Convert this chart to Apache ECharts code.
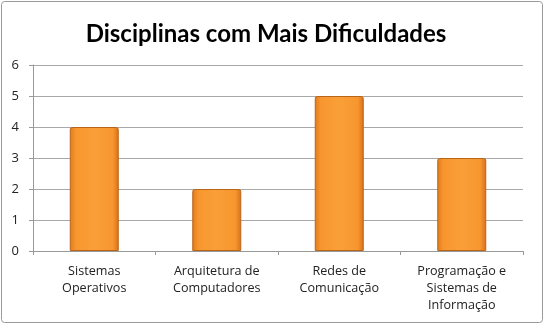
<!DOCTYPE html>
<html>
<head>
<meta charset="utf-8">
<script src="https://cdn.jsdelivr.net/npm/echarts@6/dist/echarts.min.js"></script>
<style>
  html, body { margin: 0; padding: 0; background: #fff; }
  #chart { width: 544px; height: 324px; }
</style>
</head>
<body>
<div id="chart"></div>
<script>
const categories = [
  "Sistemas\nOperativos",
  "Arquitetura de\nComputadores",
  "Redes de\nComunicação",
  "Programação e\nSistemas de\nInformação"
]
const values = [4, 2, 5, 3]
const yTicks = [0, 1, 2, 3, 4, 5, 6]

const chart = echarts.init(document.getElementById("chart"))

const barColor = new echarts.graphic.LinearGradient(0, 0, 1, 0, [
  { offset: 0, color: "#e07a1c" },
  { offset: 0.12, color: "#f7962e" },
  { offset: 0.5, color: "#fa9f38" },
  { offset: 0.88, color: "#f7962e" },
  { offset: 1, color: "#d8701a" }
])

const options = {
  backgroundColor: "#fff",
  animation: false,
  title: {
    text: "Disciplinas com Mais Dificuldades",
    left: 261,
    top: 17,
    textAlign: "center",
    textStyle: {
      fontFamily: "Lato",
      fontWeight: "bold",
      fontSize: 24,
      color: "#000"
    }
  },
  graphic: [{
    type: "rect",
    shape: { x: 1.5, y: 1.5, width: 541, height: 321, r: 3 },
    style: { fill: "none", stroke: "#9a9a9a", lineWidth: 1 },
    silent: true
  }],
  grid: {
    left: 33,
    right: 21,
    top: 65,
    bottom: 73
  },
  xAxis: {
    type: "category",
    data: categories,
    axisLine: { lineStyle: { color: "#999" } },
    axisTick: { show: true, length: 4, lineStyle: { color: "#999" } },
    axisLabel: {
      interval: 0,
      color: "#222",
      fontFamily: "Open Sans",
      fontSize: 12.6,
      lineHeight: 17,
      margin: 12
    }
  },
  yAxis: {
    type: "value",
    min: yTicks[0],
    max: yTicks[yTicks.length - 1],
    interval: 1,
    axisLine: { show: true, lineStyle: { color: "#999" } },
    axisTick: { show: true, length: 4, lineStyle: { color: "#999" } },
    splitLine: { lineStyle: { color: "#a8a8a8" } },
    axisLabel: {
      color: "#222",
      fontFamily: "Open Sans",
      fontSize: 13,
      margin: 14
    }
  },
  series: [{
    type: "bar",
    data: values,
    barWidth: "40%",
    itemStyle: {
      color: barColor,
      borderColor: "#b8651a",
      borderWidth: 1,
      borderRadius: [2, 2, 0, 0]
    }
  }]
}

chart.setOption(options)
</script>
</body>
</html>
